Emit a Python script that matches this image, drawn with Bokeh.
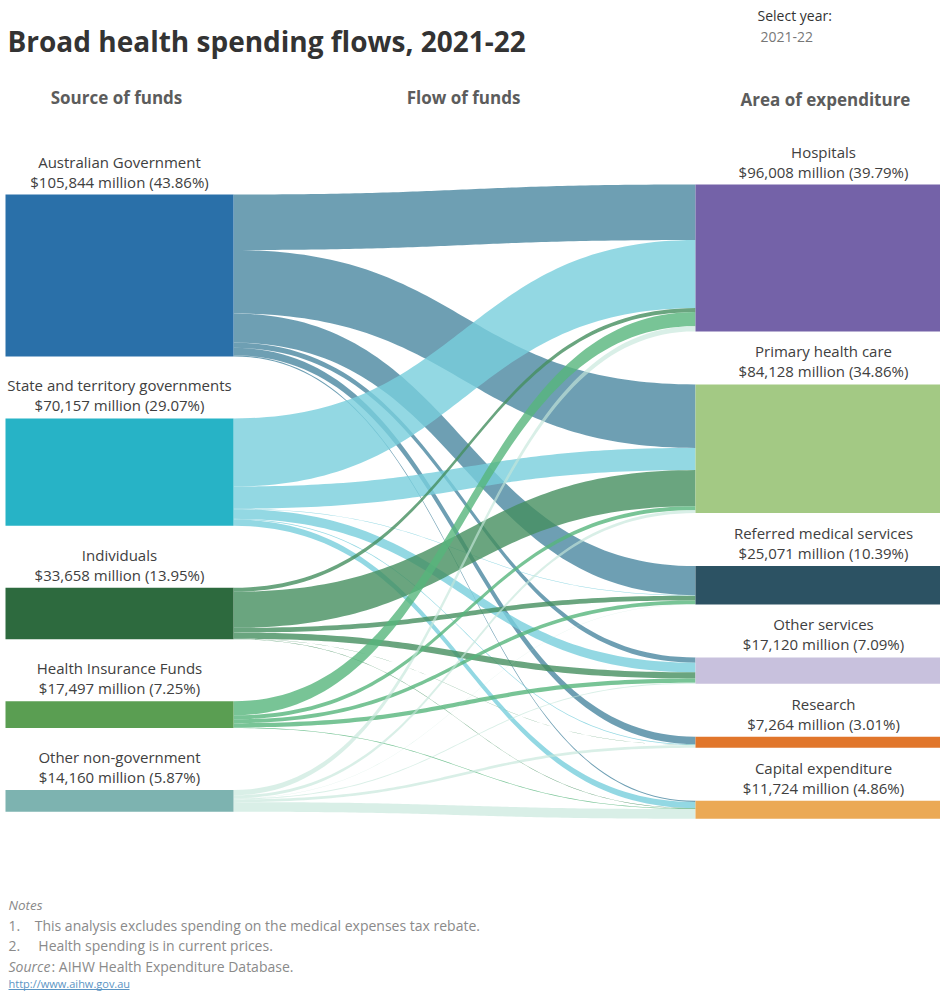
import numpy as np
from bokeh.plotting import figure
from bokeh.models import Range1d, ColumnDataSource
from bokeh.embed import file_html
from bokeh.resources import INLINE
from bokeh.core.properties import value

# ---------------- data ($ million) ----------------
sources = ["Australian Government", "State and territory governments", "Individuals",
           "Health Insurance Funds", "Other non-government"]
source_totals = [105844, 70157, 33658, 17497, 14160]
source_pcts = [43.86, 29.07, 13.95, 7.25, 5.87]

areas = ["Hospitals", "Primary health care", "Referred medical services",
         "Other services", "Research", "Capital expenditure"]
area_totals = [96008, 84128, 25071, 17120, 7264, 11724]
area_pcts = [39.79, 34.86, 10.39, 7.09, 3.01, 4.86]

# flows from each source to areas (same order as `areas`)
flow_ag = [36300, 41500, 19000, 3400, 4900, 744]
flow_st = [44500, 14500, 300, 6300, 500, 4057]
flow_in = [2600, 23600, 3100, 4000, 100, 258]
flow_hif = [9200, 2600, 2500, 2800, 0, 397]
flow_ong = [3408, 1928, 171, 620, 1764, 6269]

NB = "\u00a0"
notes = ["1." + NB * 4 + "This analysis excludes spending on the medical expenses tax rebate.",
         "2." + NB * 5 + "Health spending is in current prices."]

# ---------------- styling ----------------
source_colors = ["#2a70a9", "#27b3c6", "#2d6a3e", "#5a9e52", "#7db3b0"]
flow_colors = ["#4a87a0", "#78cedc", "#458e5f", "#56b57c", "#c4e6da"]
flow_alphas = [0.8, 0.8, 0.8, 0.8, 0.65]
area_colors = ["#7462a8", "#a3c984", "#2c5263", "#c8c1dd", "#e1762b", "#eba955"]

W, H = 940, 992
p = figure(width=W, height=H, output_backend="svg", toolbar_location=None,
           x_range=Range1d(0, W), y_range=Range1d(H, 0), min_border=0)
p.axis.visible = False
p.grid.visible = False
p.outline_line_color = None
p.background_fill_color = "white"

flows = np.array([flow_ag, flow_st, flow_in, flow_hif, flow_ong], dtype=float)
k = 0.00153          # px per $ million
l_top, l_gap = 194.0, 62.0
r_top, r_gap = 184.0, 53.0
lx0, lx1 = 5.0, 233.0
rx0, rx1 = 695.0, 951.0

src_h = flows.sum(axis=1) * k
tgt_h = flows.sum(axis=0) * k
src_y = l_top + np.concatenate([[0], np.cumsum(src_h[:-1] + l_gap)])
tgt_y = r_top + np.concatenate([[0], np.cumsum(tgt_h[:-1] + r_gap)])

# ---- flows ----
src_off = src_y.copy()
tgt_off = tgt_y.copy()
tops = {}
for i in range(len(sources)):
    for j in range(len(areas)):
        tops[(i, j, 's')] = src_off[i]
        src_off[i] += flows[i, j] * k
for j in range(len(areas)):
    for i in range(len(sources)):
        tops[(i, j, 't')] = tgt_off[j]
        tgt_off[j] += flows[i, j] * k

t = np.linspace(0, 1, 80)
xm = (lx1 + rx0) / 2
bx = (1 - t) ** 3 * lx1 + 3 * (1 - t) ** 2 * t * xm + 3 * (1 - t) * t ** 2 * xm + t ** 3 * rx0
s = 3 * t ** 2 - 2 * t ** 3
xs, ys, fc, fa = [], [], [], []
for i in range(len(sources)):
    for j in range(len(areas)):
        v = flows[i, j]
        if v <= 0:
            continue
        h = v * k
        y0, y1 = tops[(i, j, 's')], tops[(i, j, 't')]
        top = y0 + (y1 - y0) * s
        xs.append(list(bx) + list(bx[::-1]))
        ys.append(list(top) + list((top + h)[::-1]))
        fc.append(flow_colors[i])
        fa.append(flow_alphas[i])
p.patches(xs="xs", ys="ys", fill_color="fc", fill_alpha="fa", line_color=None,
          source=ColumnDataSource(dict(xs=xs, ys=ys, fc=fc, fa=fa)))

# ---- nodes ----
p.quad(left=[lx0] * len(sources), right=[lx1] * len(sources), top=list(src_y),
       bottom=list(src_y + src_h), fill_color=source_colors, line_color=None)
p.quad(left=[rx0] * len(areas), right=[rx1] * len(areas), top=list(tgt_y),
       bottom=list(tgt_y + tgt_h), fill_color=area_colors, line_color=None)

font = value("Open Sans")
lab_x, lab_y, lab_t = [], [], []
for i, name in enumerate(sources):
    cx = (lx0 + lx1) / 2
    lab_x += [cx, cx]
    lab_y += [src_y[i] - 33, src_y[i] - 13]
    lab_t += [name, f"${source_totals[i]:,} million ({source_pcts[i]:.2f}%)"]
for j, name in enumerate(areas):
    cx = (rx0 + rx1) / 2
    lab_x += [cx, cx]
    lab_y += [tgt_y[j] - 33, tgt_y[j] - 13]
    lab_t += [name, f"${area_totals[j]:,} million ({area_pcts[j]:.2f}%)"]
p.text(x=lab_x, y=lab_y, text=lab_t, text_font=font, text_font_size="15px",
       text_color="#404040", text_align="center", text_baseline="middle")

# ---- headers / title ----
p.text(x=[7], y=[40], text=["Broad health spending flows, 2021-22"], text_font=font,
       text_font_size="28px", text_font_style="bold", text_color="#333333",
       text_align="left", text_baseline="middle")
p.text(x=[757], y=[15], text=["Select year:"], text_font=font, text_font_size="14px",
       text_color="#333333", text_align="left", text_baseline="middle")
p.text(x=[760], y=[36], text=["2021-22"], text_font=font, text_font_size="14px",
       text_color="#777777", text_align="left", text_baseline="middle")
p.text(x=[116, 463, 825], y=[97, 97, 99],
       text=["Source of funds", "Flow of funds", "Area of expenditure"], text_font=font,
       text_font_size="17px", text_font_style="bold", text_color="#5c5c5c",
       text_align="center", text_baseline="middle")

# ---- notes ----
p.text(x=[8], y=[904], text=["Notes"], text_font=font, text_font_size="13.5px",
       text_font_style="italic", text_color="#8a8a8a", text_align="left", text_baseline="middle")
p.text(x=[8, 8], y=[925, 945], text=notes, text_font=font, text_font_size="14px",
       text_color="#8a8a8a", text_align="left", text_baseline="middle")
p.text(x=[8], y=[966], text=["Source"], text_font=font, text_font_size="14px",
       text_font_style="italic", text_color="#8a8a8a", text_align="left", text_baseline="middle")
p.text(x=[51], y=[966], text=[": AIHW Health Expenditure Database."], text_font=font,
       text_font_size="14px", text_color="#8a8a8a", text_align="left", text_baseline="middle")
p.text(x=[8], y=[983], text=["http://www.aihw.gov.au"], text_font=font, text_font_size="11px",
       text_color="#5b95c4", text_align="left", text_baseline="middle")
p.segment(x0=[8], x1=[129], y0=[989], y1=[989], line_color="#5b95c4", line_width=1)

open("out.html", "w").write(file_html(p, INLINE))
